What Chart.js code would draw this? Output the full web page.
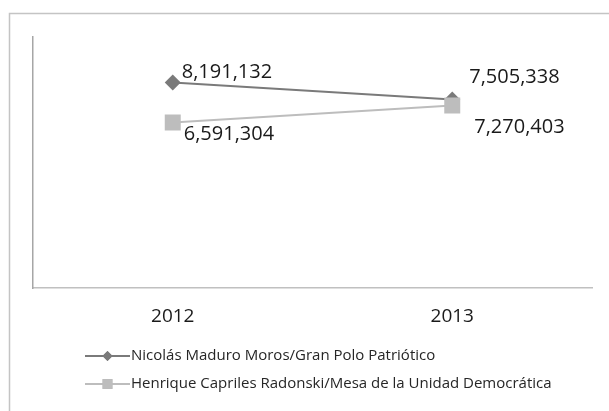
<!DOCTYPE html>
<html>
<head>
<meta charset="utf-8">
<script src="https://cdn.jsdelivr.net/npm/chart.js@4.4.1/dist/chart.umd.min.js"></script>
<style>
  html, body { margin: 0; padding: 0; background: #fff; }
  #wrap { width: 609px; height: 411px; position: relative; }
</style>
</head>
<body>
<div id="wrap"><canvas id="votesCanvas" width="609" height="411"></canvas></div>
<script>
const years = ['2012', '2013'];
const seriesNames = [
    'Nicolás Maduro Moros/Gran Polo Patriótico',
    'Henrique Capriles Radonski/Mesa de la Unidad Democrática'
];
const maduroVotes = [8191132, 7505338];
const caprilesVotes = [6591304, 7270403];
const yMin = 0;
const yMax = 10000000;

const fontFamily = "'Open Sans', 'Noto Sans', sans-serif";

// outer frame of the original chart box (clipped on right/bottom)
const framePlugin = {
    id: 'frame',
    beforeDraw: function (chart) {
        var ctx = chart.ctx;
        ctx.save();
        ctx.strokeStyle = '#c4c4c4';
        ctx.lineWidth = 1.5;
        ctx.strokeRect(9.5, 13.5, 640, 440);
        ctx.restore();
    }
};

// value labels next to each point
const valueLabelPlugin = {
    id: 'valueLabels',
    afterDatasetsDraw: function (chart) {
        var ctx = chart.ctx;
        var offsets = [
            [{ dx: 9, dy: -10 }, { dx: 17, dy: -22 }],
            [{ dx: 11, dy: 12 }, { dx: 22, dy: 22 }]
        ];
        ctx.save();
        ctx.font = '20px ' + fontFamily;
        ctx.fillStyle = '#1a1a1a';
        ctx.textAlign = 'left';
        ctx.textBaseline = 'middle';
        chart.data.datasets.forEach(function (ds, di) {
            var meta = chart.getDatasetMeta(di);
            meta.data.forEach(function (pt, i) {
                var o = offsets[di][i];
                ctx.fillText(ds.data[i].toLocaleString('en-US'), pt.x + o.dx, pt.y + o.dy);
            });
        });
        ctx.restore();
    }
};

// legend stacked on the left under the axis
const legendPlugin = {
    id: 'sideLegend',
    afterDraw: function (chart) {
        var ctx = chart.ctx;
        var x0 = 85, x1 = 130, rowY = [356, 384];
        ctx.save();
        chart.data.datasets.forEach(function (ds, di) {
            var y = rowY[di];
            ctx.strokeStyle = ds.borderColor;
            ctx.lineWidth = 2;
            ctx.beginPath();
            ctx.moveTo(x0, y);
            ctx.lineTo(x1, y);
            ctx.stroke();
            ctx.fillStyle = ds.pointBackgroundColor;
            Chart.helpers.drawPoint(ctx, {
                pointStyle: ds.pointStyle,
                radius: di === 0 ? 5 : 7,
                borderWidth: 0
            }, (x0 + x1) / 2, y);
            ctx.fill();
            ctx.font = '15px ' + fontFamily;
            ctx.fillStyle = '#262626';
            ctx.textBaseline = 'middle';
            ctx.fillText(seriesNames[di], x1 + 1, y);
        });
        ctx.restore();
    }
};

new Chart(document.getElementById('votesCanvas'), {
    type: 'line',
    data: {
        labels: years,
        datasets: [
            {
                label: seriesNames[0],
                data: maduroVotes,
                borderColor: '#7a7a7a',
                backgroundColor: '#7a7a7a',
                pointBackgroundColor: '#7a7a7a',
                pointBorderWidth: 0,
                pointStyle: 'rectRot',
                pointRadius: 8,
                borderWidth: 2,
                order: 1
            },
            {
                label: seriesNames[1],
                data: caprilesVotes,
                borderColor: '#bdbdbd',
                backgroundColor: '#bdbdbd',
                pointBackgroundColor: '#bdbdbd',
                pointBorderWidth: 0,
                pointStyle: 'rect',
                pointRadius: 11.3,
                borderWidth: 2,
                order: 0
            }
        ]
    },
    options: {
        responsive: false,
        animation: false,
        layout: { padding: { left: 33, top: 37, right: 17, bottom: 83 } },
        plugins: {
            legend: { display: false },
            tooltip: { enabled: false }
        },
        scales: {
            x: {
                offset: true,
                grid: { display: false },
                border: { display: true, color: '#c0c0c0', width: 1.5 },
                ticks: {
                    color: '#1a1a1a',
                    font: { size: 19, family: fontFamily },
                    padding: 9
                },
                afterFit: function (scale) { scale.height = 40; }
            },
            y: {
                min: yMin,
                max: yMax,
                grid: { display: false },
                border: { display: true, color: '#a6a6a6', width: 1.5 },
                ticks: { display: false },
                afterFit: function (scale) { scale.width = 0; }
            }
        }
    },
    plugins: [framePlugin, valueLabelPlugin, legendPlugin]
});
</script>
</body>
</html>
